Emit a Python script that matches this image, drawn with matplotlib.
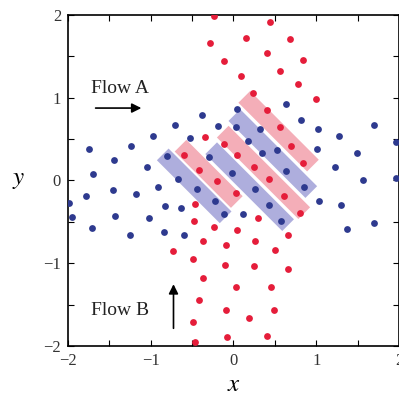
import numpy as np
import matplotlib
matplotlib.use("Agg")
import matplotlib.pyplot as plt
from matplotlib.patches import Rectangle
from matplotlib.ticker import MultipleLocator

plt.rcParams['font.family'] = ['Liberation Serif', 'DejaVu Serif']
plt.rcParams['mathtext.fontset'] = 'stix'

# particles of flow A (blue), roughly horizontal rows
blue_x = [-0.378, -0.701, -0.185, -0.970, -0.523, -1.749, -1.233, -1.447, -1.051, -0.806,
          -0.665, -0.298, -1.694, -1.782, -1.462, -1.184, -0.916, -0.445, 0.048, 0.637,
          0.810, 1.698, 0.027, 0.326, 1.019, 1.275, 1.958, 0.173, 0.341, 0.529,
          1.009, 1.492, 1.227, -0.021, 0.640, 1.563, 1.958, 0.257, 0.846, 1.036,
          1.302, 0.435, 0.112, 0.572, 1.366, 1.698, -1.990, -0.830, -0.637, -0.226,
          -1.954, -1.430, -1.021, -0.114, -1.708, -1.245, -0.844, -0.604]
blue_y = [0.786, 0.671, 0.659, 0.534, 0.508, 0.381, 0.421, 0.248, 0.160, 0.300,
          0.018, 0.284, 0.079, -0.187, -0.121, -0.163, -0.079, -0.097, 0.864, 0.921,
          0.731, 0.673, 0.650, 0.626, 0.620, 0.532, 0.462, 0.477, 0.336, 0.366,
          0.377, 0.329, 0.168, 0.094, 0.109, 0.002, 0.024, -0.103, -0.079, -0.248,
          -0.298, -0.294, -0.402, -0.495, -0.592, -0.517, -0.272, -0.305, -0.338, -0.248,
          -0.441, -0.425, -0.457, -0.405, -0.570, -0.655, -0.628, -0.659]

# particles of flow B (red), roughly vertical columns
red_x = [-0.238, -0.282, -0.109, 0.439, 0.157, 0.685, 0.402, 0.837, 0.556, 0.085,
         0.785, 0.239, 0.999, 0.401, 0.566, 0.695, 0.842, -0.340, -0.115, -0.602,
         0.040, -0.413, 0.242, -0.199, 0.433, 0.025, 0.616, -0.465, 0.798, 0.292,
         -0.477, -0.236, 0.042, 0.661, -0.369, -0.087, 0.254, -0.725, -0.485, 0.506,
         -0.097, 0.248, 0.661, -0.372, 0.030, 0.456, -0.411, -0.085, 0.487, 0.187,
         -0.492, -0.469, -0.076, 0.405]
red_y = [1.992, 1.665, 1.444, 1.915, 1.726, 1.706, 1.544, 1.453, 1.323, 1.263,
         1.160, 1.054, 0.981, 0.848, 0.643, 0.414, 0.208, 0.520, 0.444, 0.306,
         0.302, 0.129, 0.167, -0.006, 0.018, -0.155, -0.184, -0.286, -0.390, -0.453,
         -0.495, -0.566, -0.604, -0.655, -0.735, -0.782, -0.729, -0.850, -0.949, -0.840,
         -1.024, -1.033, -1.069, -1.175, -1.285, -1.283, -1.440, -1.569, -1.560, -1.662,
         -1.710, -1.948, -1.894, -1.885]

# diagonal bands: centre, length along the band, colour
band_cx = [0.545, 0.475, 0.3625, 0.195, -0.30, -0.475]
band_cy = [0.595, 0.325, 0.0975, -0.075, 0.08, -0.065]
band_len = [1.174, 1.315, 1.393, 1.315, 0.962, 1.075]
band_col = ['#f4aeb8', '#aeaedd', '#f4aeb8', '#aeaedd', '#f4aeb8', '#aeaedd']
band_w = 0.2

fig = plt.figure(figsize=(3.99, 3.98), dpi=100)
ax = fig.add_axes([0.1704, 0.1307, 0.8296, 0.8317])

for cx, cy, L, c in zip(band_cx, band_cy, band_len, band_col):
    r = Rectangle((cx - L / 2, cy - band_w / 2), L, band_w, angle=-45,
                  rotation_point='center', facecolor=c, edgecolor='none', zorder=1)
    ax.add_patch(r)

ax.plot(blue_x, blue_y, 'o', color='#2e3a8f', markersize=4.9, markeredgewidth=0, zorder=3)
ax.plot(red_x, red_y, 'o', color='#e51d3a', markersize=4.9, markeredgewidth=0, zorder=3)

ax.text(-1.716, 1.11, 'Flow A', fontsize=14, va='center', ha='left', color='#222222')
ax.annotate('', xy=(-1.08, 0.875), xytext=(-1.70, 0.875),
            arrowprops=dict(arrowstyle='-|>', color='k', lw=1.2, mutation_scale=14))
ax.text(-1.716, -1.575, 'Flow B', fontsize=14, va='center', ha='left', color='#222222')
ax.annotate('', xy=(-0.725, -1.22), xytext=(-0.725, -1.82),
            arrowprops=dict(arrowstyle='-|>', color='k', lw=1.2, mutation_scale=14))

ax.set_xlim(-2, 2)
ax.set_ylim(-2, 2)
ax.xaxis.set_major_locator(MultipleLocator(1))
ax.yaxis.set_major_locator(MultipleLocator(1))
ax.xaxis.set_minor_locator(MultipleLocator(0.5))
ax.yaxis.set_minor_locator(MultipleLocator(0.5))
ax.tick_params(which='both', direction='in', top=True, right=True, length=4, width=0.8,
               labelsize=12, pad=5, labelcolor='#333333')
for sp in ax.spines.values():
    sp.set_linewidth(1.2)

ax.set_xlabel('$x$', fontsize=18, labelpad=4)
ax.set_ylabel('$y$', fontsize=18, rotation=0, labelpad=18, va='center')

fig.savefig('out.png', dpi=100)
